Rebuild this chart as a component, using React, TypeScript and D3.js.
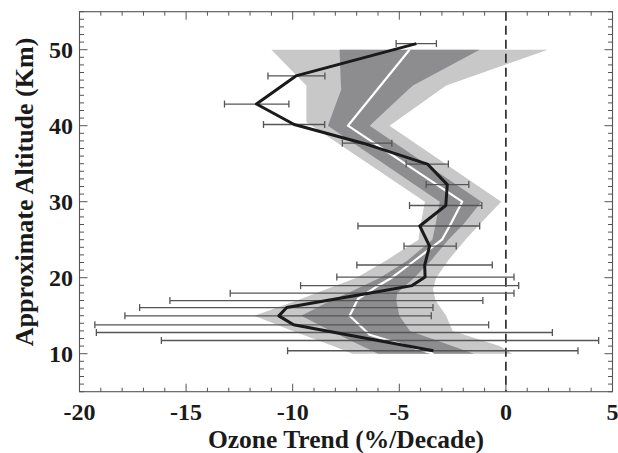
import React from "react";
import * as d3 from "d3";

const W = 618;
const H = 453;
const PL = 79.5, PR = 612.5, PT = 11.7, PB = 391.7;

// Measured trend profile (black line) with error bars
const altitudes = [50.8, 46.55, 42.85, 40.16, 37.7, 34.95, 32.25, 29.5, 26.8, 24.16, 21.67, 20.08, 18.96, 17.96, 16.99, 16.07, 14.98, 13.8, 12.79, 11.74, 10.39];
const trend = [-4.2, -9.85, -11.7, -9.93, -6.7, -3.68, -2.75, -2.82, -4.04, -3.58, -3.81, -3.79, -4.4, -6.43, -8.4, -10.28, -10.65, -9.96, -8.02, -6.0, -3.4];
const errLow = [-5.15, -11.16, -13.2, -11.37, -7.67, -4.68, -3.74, -4.52, -6.94, -4.78, -6.99, -7.93, -9.63, -12.93, -15.76, -17.18, -17.87, -19.28, -19.21, -16.16, -10.24];
const errHigh = [-3.26, -8.49, -10.18, -8.5, -5.35, -2.7, -1.74, -1.13, -1.23, -2.33, -0.64, 0.38, 0.6, 0.38, -1.08, -3.42, -3.5, -0.81, 2.18, 4.35, 3.38];

// Outer (light gray) range
const lightAlt = [50, 45.3, 40.5, 40, 30, 27, 25, 22.3, 20, 18.5, 17, 15, 13, 11, 10];
const lightLo = [-11.0, -9.36, -9.36, -9.1, -3.8, -4.0, -4.1, -5.6, -7.0, -8.4, -9.8, -11.8, -10.0, -8.1, -7.2];
const lightHi = [1.96, -2.8, -5.21, -5.46, -0.22, -1.24, -1.9, -2.7, -3.27, -3.42, -3.3, -2.8, -2.5, -0.3, 0.3];

// Inner (dark gray) range
const darkAlt = [50, 45.3, 44.8, 40, 30, 27, 25, 22.3, 20, 18, 17, 15, 13, 10];
const darkLo = [-7.8, -7.74, -7.72, -8.35, -3.1, -3.3, -3.45, -4.6, -5.9, -7.4, -8.2, -9.6, -8.2, -6.0];
const darkHi = [-1.23, -4.36, -4.56, -6.39, -1.15, -2.0, -2.7, -3.5, -4.3, -5.1, -5.14, -5.0, -4.5, -1.5];

// Model mean (white line)
const medAlt = [50, 40, 30, 27, 25, 22, 20, 18.8, 17.2, 15, 12.5, 10];
const median = [-4.52, -7.41, -2.05, -2.6, -3.0, -4.4, -5.35, -6.08, -6.94, -7.33, -6.39, -3.4];

const xTickLabels = [-20, -15, -10, -5, 0, 5];
const yTickLabels = [10, 20, 30, 40, 50];

const FONT = "Liberation Serif, Tinos, Times New Roman, DejaVu Serif, serif";

export default function App() {
  const x = d3.scaleLinear().domain([-20, 5]).range([PL, PR]);
  const y = d3.scaleLinear().domain([5, 55]).range([PB, PT]);

  const band = d3
    .area<{ a: number; lo: number; hi: number }>()
    .y((d) => y(d.a))
    .x0((d) => x(d.lo))
    .x1((d) => x(d.hi));

  const lightData = lightAlt.map((a, i) => ({ a, lo: lightLo[i], hi: lightHi[i] }));
  const darkData = darkAlt.map((a, i) => ({ a, lo: darkLo[i], hi: darkHi[i] }));

  const line = d3
    .line<{ a: number; v: number }>()
    .x((d) => x(d.v))
    .y((d) => y(d.a));

  const medData = medAlt.map((a, i) => ({ a, v: median[i] }));
  const trendData = altitudes.map((a, i) => ({ a, v: trend[i] }));

  const xMinor = d3.range(-20, 6, 1);
  const yMinor = d3.range(5, 56, 1);

  const tickColor = "#555";
  const textStyle = { fontFamily: FONT, fontWeight: 700 } as React.CSSProperties;

  return (
    <svg
      width={W}
      height={H}
      style={{ position: "absolute", left: 0, top: 0, background: "#fff" }}
    >
      <rect x={0} y={0} width={W} height={H} fill="#fff" />
      <path d={band(lightData) || ""} fill="#c8c8c8" />
      <path d={band(darkData) || ""} fill="#8d8d90" />
      <path d={line(medData) || ""} fill="none" stroke="#fff" strokeWidth={2.2} strokeLinejoin="round" />

      <line x1={x(0)} x2={x(0)} y1={PT} y2={PB} stroke="#222" strokeWidth={1.6} strokeDasharray="9,5" />

      {altitudes.map((a, i) => (
        <g key={i} stroke="#555" strokeWidth={1.3}>
          <line x1={x(errLow[i])} x2={x(errHigh[i])} y1={y(a)} y2={y(a)} />
          <line x1={x(errLow[i])} x2={x(errLow[i])} y1={y(a) - 3.5} y2={y(a) + 3.5} />
          <line x1={x(errHigh[i])} x2={x(errHigh[i])} y1={y(a) - 3.5} y2={y(a) + 3.5} />
        </g>
      ))}

      <path d={line(trendData) || ""} fill="none" stroke="#1a1a1a" strokeWidth={3} strokeLinejoin="round" />

      {/* frame */}
      <rect x={PL} y={PT} width={PR - PL} height={PB - PT} fill="none" stroke={tickColor} strokeWidth={1.1} />

      {xMinor.map((v) => {
        const major = v % 5 === 0;
        const len = major ? 8 : 4;
        return (
          <g key={"x" + v} stroke={tickColor} strokeWidth={1}>
            <line x1={x(v)} x2={x(v)} y1={PB} y2={PB - len} />
            <line x1={x(v)} x2={x(v)} y1={PT} y2={PT + len} />
          </g>
        );
      })}
      {yMinor.map((v) => {
        const major = v % 10 === 0;
        const len = major ? 8 : 4.5;
        return (
          <g key={"y" + v} stroke={tickColor} strokeWidth={1}>
            <line x1={PL} x2={PL + len} y1={y(v)} y2={y(v)} />
            <line x1={PR} x2={PR - len} y1={y(v)} y2={y(v)} />
          </g>
        );
      })}

      {xTickLabels.map((v) => (
        <text
          key={"xl" + v}
          x={x(v)}
          y={419.5}
          textAnchor="middle"
          style={textStyle}
          fontSize={24}
          fill="#1a1a1a"
        >
          {v}
        </text>
      ))}
      {yTickLabels.map((v) => (
        <text
          key={"yl" + v}
          x={73}
          y={y(v)}
          dy="0.35em"
          textAnchor="end"
          style={textStyle}
          fontSize={24}
          fill="#1a1a1a"
        >
          {v}
        </text>
      ))}

      <text
        x={(PL + PR) / 2}
        y={447.5}
        textAnchor="middle"
        style={textStyle}
        fontSize={25.5}
        fill="#1a1a1a"
      >
        Ozone Trend (%/Decade)
      </text>
      <text
        transform={`translate(33,192) rotate(-90)`}
        textAnchor="middle"
        style={textStyle}
        fontSize={26}
        fill="#1a1a1a"
      >
        Approximate Altitude (Km)
      </text>
    </svg>
  );
}
